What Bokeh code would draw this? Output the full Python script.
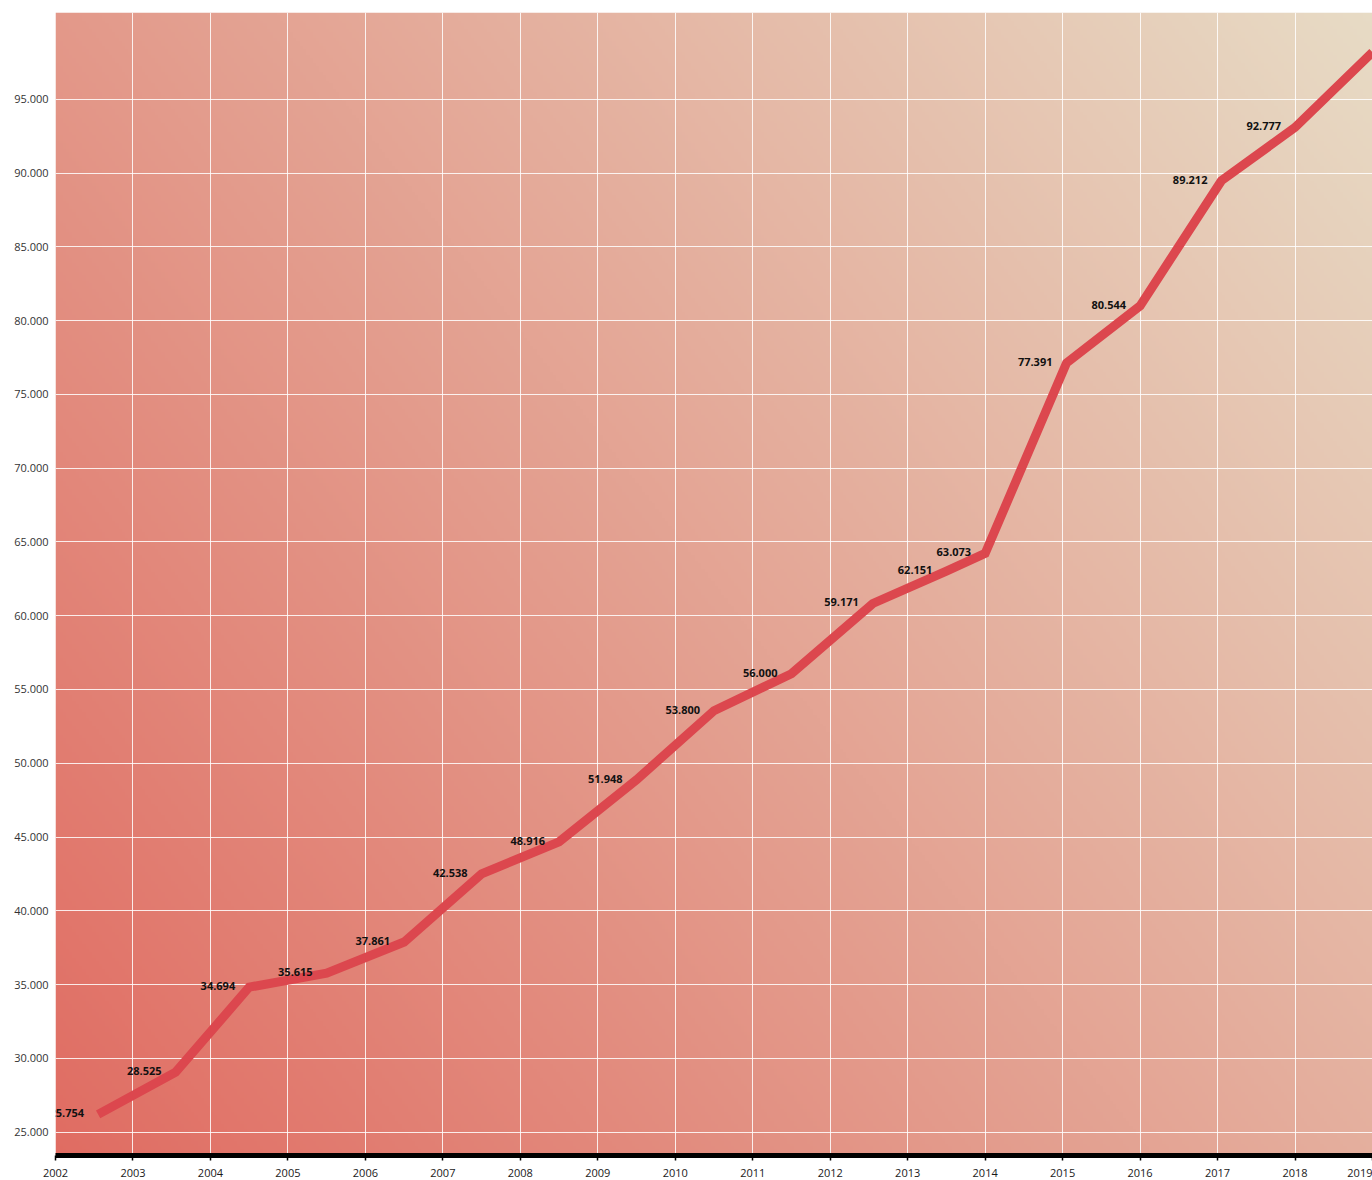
import numpy as np
from bokeh.plotting import figure
from bokeh.models import ColumnDataSource, FixedTicker, Range1d
from bokeh.core.properties import value
from bokeh.embed import file_html
from bokeh.resources import INLINE

# ---- data ----
years = [2002.55, 2003.55, 2004.5, 2005.5, 2006.5, 2007.5, 2008.5, 2009.5, 2010.5,
         2011.5, 2012.55, 2013.5, 2014.0, 2015.05, 2016.0, 2017.05, 2018.0, 2019.0]
values = [26200, 29050, 34820, 35770, 37880, 42500, 44670, 48880, 53560,
          56070, 60830, 63030, 64220, 77130, 81000, 89490, 93100, 98200]
label_values = [25754, 28525, 34694, 35615, 37861, 42538, 48916, 51948, 53800,
                56000, 59171, 62151, 63073, 77391, 80544, 89212, 92777]
x_ticks = list(range(2002, 2020))
y_ticks = list(range(25000, 100000, 5000))


def fmt(v):
    return f"{v:,}".replace(",", ".")


Y0, Y1 = 23410, 100890
X0, X1 = 2002, 2019

p = figure(width=1372, height=1179, output_backend="svg", toolbar_location=None,
           x_range=Range1d(X0, X1), y_range=Range1d(Y0, Y1),
           min_border_left=55, min_border_right=0, min_border_top=12, min_border_bottom=0)
p.outline_line_color = None
p.background_fill_color = "white"
p.border_fill_color = "white"

# gradient background (style only)
nx, ny = 400, 400
xf = np.linspace(0, 1, nx)[None, :]
yf = np.linspace(0, 1, ny)[:, None]
t = 0.6 * xf + 0.4 * yf
c0 = np.array([224, 108, 98], dtype=float)
c1 = np.array([231, 219, 197], dtype=float)
rgb = c0 + (c1 - c0) * t[..., None]
img = np.empty((ny, nx), dtype=np.uint32)
view = img.view(dtype=np.uint8).reshape((ny, nx, 4))
view[..., :3] = np.round(rgb).astype(np.uint8)
view[..., 3] = 255
bg = p.image_rgba(image=[img], x=X0, y=Y0, dw=X1 - X0, dh=Y1 - Y0, level="image")

# grid
p.xgrid.ticker = FixedTicker(ticks=x_ticks)
p.ygrid.ticker = FixedTicker(ticks=y_ticks)
for g in (p.xgrid, p.ygrid):
    g.grid_line_color = "white"
    g.grid_line_alpha = 0.85
    g.grid_line_width = 1

# axes
p.xaxis.ticker = FixedTicker(ticks=x_ticks)
p.xaxis.major_label_overrides = {y: str(y) for y in x_ticks}
p.xaxis.axis_line_color = "black"
p.xaxis.axis_line_width = 5
p.xaxis.major_tick_line_color = "black"
p.xaxis.major_tick_line_width = 1.5
p.xaxis.major_tick_out = 5
p.xaxis.major_tick_in = 0
p.xaxis.minor_tick_line_color = None
p.xaxis.major_label_standoff = 8
p.xaxis.major_label_text_font = "Open Sans"
p.xaxis.major_label_text_font_size = "11px"
p.xaxis.major_label_text_font_style = "normal"
p.xaxis.major_label_text_color = "#1a1a1a"

p.yaxis.ticker = FixedTicker(ticks=y_ticks)
p.yaxis.major_label_overrides = {v: fmt(v) for v in y_ticks}
p.yaxis.axis_line_color = None
p.yaxis.major_tick_line_color = None
p.yaxis.minor_tick_line_color = None
p.yaxis.major_tick_out = 0
p.yaxis.major_tick_in = 0
p.yaxis.major_label_standoff = 7
p.yaxis.major_label_text_font = "Open Sans"
p.yaxis.major_label_text_font_size = "11px"
p.yaxis.major_label_text_color = "#333333"

# line
p.line(years, values, line_color="#DC474E", line_width=9, line_join="miter")

# value labels
n = len(label_values)
lab_src = ColumnDataSource(dict(x=years[:n], y=values[:n], t=[fmt(v) for v in label_values]))
p.text(x="x", y="y", text="t", source=lab_src, text_align="right", text_baseline="middle",
       x_offset=-14, y_offset=-1, text_font=value("Open Sans"), text_font_style="bold",
       text_font_size="11px", text_color="#111111")

open("out.html", "w").write(file_html(p, INLINE))
